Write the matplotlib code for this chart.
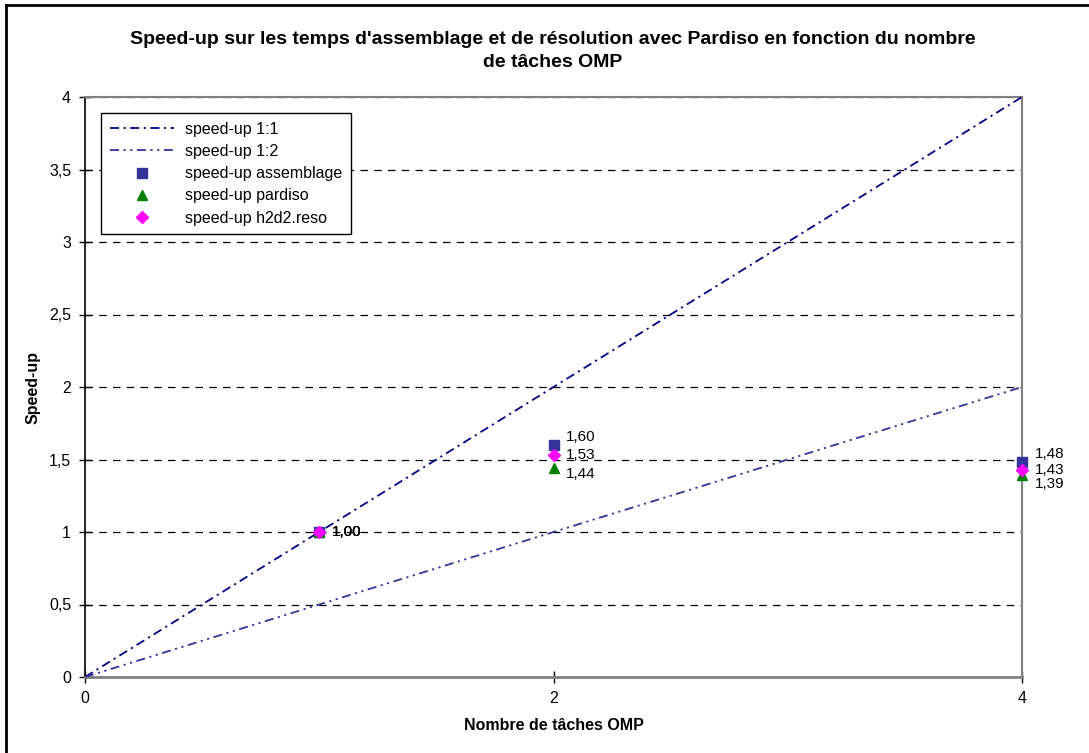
import matplotlib
matplotlib.use("Agg")
import matplotlib.pyplot as plt
from matplotlib.lines import Line2D
from matplotlib.ticker import FuncFormatter

plt.rcParams['font.family'] = ['Liberation Sans', 'DejaVu Sans']

# Data
threads = [1, 2, 4]
assemblage = [1.00, 1.60, 1.48]
pardiso = [1.00, 1.44, 1.39]
reso = [1.00, 1.53, 1.43]
ideal_x = [0, 4]
ideal_11 = [0, 4]
ideal_12 = [0, 2]
x_ticks = [0, 2, 4]
y_ticks = [0, 0.5, 1, 1.5, 2, 2.5, 3, 3.5, 4]

title = "Speed-up sur les temps d'assemblage et de résolution avec Pardiso en fonction du nombre\nde tâches OMP"

fig = plt.figure(figsize=(10.89, 7.53), dpi=100)
ax = fig.add_axes([85/1089, 76/753, (1022-85)/1089, (677-97)/753])

ax.plot(ideal_x, ideal_11, color='#000080', lw=1.3, dashes=[5, 2.5, 1.2, 2.5],
        label='speed-up 1:1', zorder=3)
ax.plot(ideal_x, ideal_12, color='#333399', lw=1.3, dashes=[5, 2.5, 1.2, 2.5, 1.2, 2.5],
        label='speed-up 1:2', zorder=3)
ax.plot(threads, assemblage, ls='none', marker='s', ms=7, color='#333399',
        label='speed-up assemblage', zorder=4, clip_on=False)
ax.plot(threads, pardiso, ls='none', marker='^', ms=7, color='#008000',
        label='speed-up pardiso', zorder=4, clip_on=False)
ax.plot(threads, reso, ls='none', marker='D', ms=6, color='#FF00FF',
        label='speed-up h2d2.reso', zorder=5, clip_on=False)

fmt = lambda v: f"{v:.2f}".replace('.', ',')
label_offsets = {
    'a': [0, 6, 6],
    'p': [0, -4, -6],
    'r': [0, 0, 0],
}
for series, key in ((assemblage, 'a'), (pardiso, 'p'), (reso, 'r')):
    for i, (x, y) in enumerate(zip(threads, series)):
        ax.annotate(fmt(y), (x, y), xytext=(9, label_offsets[key][i]),
                    textcoords='offset points', ha='left', va='center',
                    fontsize=11, color='black', zorder=6,
                    annotation_clip=False)

ax.set_xlim(0, 4)
ax.set_ylim(0, 4)
ax.set_xticks(x_ticks)
ax.set_yticks(y_ticks)
ax.yaxis.set_major_formatter(FuncFormatter(lambda v, p: f"{v:g}".replace('.', ',')))
ax.tick_params(axis='both', direction='inout', length=8, width=1, labelsize=11.5, pad=6)
ax.grid(axis='y', color='black', linestyle=(0, (6, 5)), lw=0.9)
ax.set_axisbelow(True)

for s in ('top', 'right'):
    ax.spines[s].set_color('#808080')
    ax.spines[s].set_linewidth(1.5)
ax.spines['left'].set_color('black')
ax.spines['left'].set_linewidth(1.2)
ax.spines['bottom'].set_color('#808080')
ax.spines['bottom'].set_linewidth(2)

ax.set_xlabel('Nombre de tâches OMP', fontsize=11.5, fontweight='bold')
ax.set_ylabel('Speed-up', fontsize=11.5, fontweight='bold')
ax.xaxis.set_label_coords(0.5, (677 - 718) / 580)
ax.yaxis.set_label_coords((41 - 85) / 937, 0.5)

fig.text(553/1089, 1 - 51/753, title, ha='center', va='center', fontsize=14,
         fontweight='bold', linespacing=1.4)

leg = ax.legend(loc='upper left', bbox_to_anchor=(16/937, 1 - 16/580),
                frameon=True, fancybox=False, fontsize=11.5, borderpad=0.55,
                labelspacing=0.45, handlelength=4.0, handletextpad=0.7,
                borderaxespad=0, framealpha=1)
leg.get_frame().set_edgecolor('black')
leg.get_frame().set_linewidth(1.0)

fig.add_artist(Line2D([6/1089, 1], [1 - 5/753, 1 - 5/753], color='black', lw=2,
                      transform=fig.transFigure))
fig.add_artist(Line2D([6/1089, 6/1089], [0, 1 - 5/753], color='black', lw=2,
                      transform=fig.transFigure))

fig.savefig('out.png', dpi=100)
